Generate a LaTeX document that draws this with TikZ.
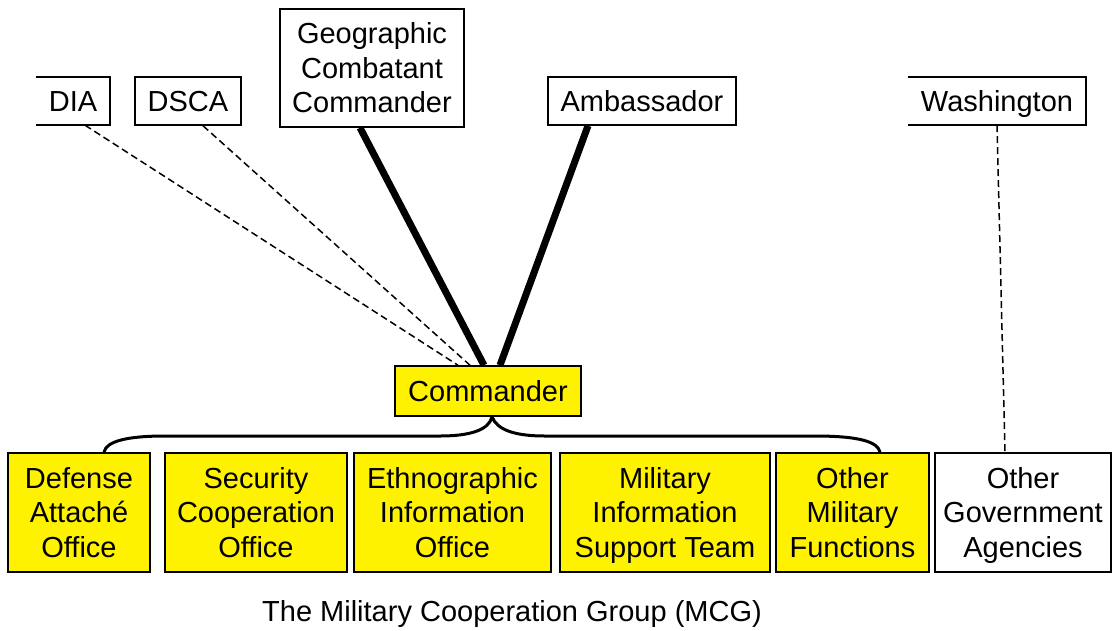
\documentclass[tikz,border=0pt]{standalone}
\usepackage{fontspec}
\setmainfont{Liberation Sans}
\usetikzlibrary{backgrounds}
\newcommand\capstrut{\rule[-7.2pt]{0pt}{35.2pt}}
\begin{document}
\begin{tikzpicture}[x=1pt,y=-1pt,
  txt/.style={inner sep=0pt, align=center, font=\fontsize{29}{34.5}\selectfont,
    execute at end node=\capstrut},
  box/.style={txt, draw=black, line width=1.5pt},
  ybox/.style={box, fill=yellow},
  openbox/.style={txt},
  edge/.style={line width=1.5pt},
  dashline/.style={line width=1.5pt, dash pattern=on 7pt off 4pt},
  heavy/.style={line width=7pt},
  brace/.style={line width=3pt}]
\useasboundingbox (0,0) rectangle (1113,630);

% top boxes
\node[openbox, minimum width=74pt, minimum height=48pt] (dia) at (73,101) {\capstrut DIA};
\draw[edge] (dia.north west) -- (dia.north east) -- (dia.south east) -- (dia.south west);
\node[box, minimum width=106pt, minimum height=48pt] (dsca) at (188,101) {\capstrut DSCA};
\node[box, minimum width=184pt, minimum height=118pt] (gcc) at (372,68) {\capstrut Geographic\\Combatant\\Commander};
\node[box, minimum width=188pt, minimum height=48pt] (amb) at (642,101) {\capstrut Ambassador};
\node[openbox, minimum width=178pt, minimum height=48pt] (wash) at (997,101) {\capstrut Washington};
\draw[edge] (wash.north west) -- (wash.north east) -- (wash.south east) -- (wash.south west);

% commander
\node[ybox, minimum width=186pt, minimum height=50pt] (cmd) at (488,391) {\capstrut Commander};

% bottom boxes
\node[ybox, minimum width=142pt, minimum height=119pt] (dao) at (79,512.5) {\capstrut Defense\\Attach\'e\\Office};
\node[ybox, minimum width=182pt, minimum height=119pt] (sco) at (256,512.5) {\capstrut Security\\Cooperation\\Office};
\node[ybox, minimum width=197pt, minimum height=119pt] (eio) at (452.5,512.5) {\capstrut Ethnographic\\Information\\Office};
\node[ybox, minimum width=210pt, minimum height=119pt] (mist) at (665,512.5) {\capstrut Military\\Information\\Support Team};
\node[ybox, minimum width=153pt, minimum height=119pt] (omf) at (852.5,512.5) {\capstrut Other\\Military\\Functions};
\node[box, minimum width=176pt, minimum height=119pt] (oga) at (1023,512.5) {\capstrut Other\\Government\\Agencies};

% title
\node[txt] (title) at (512,611) {\capstrut The Military Cooperation Group (MCG)};

% connectors
\begin{scope}[on background layer]
\draw[dashline] ([xshift=12pt]dia.south) -- ([xshift=-30pt]cmd.north);
\draw[dashline] ([xshift=15pt]dsca.south) -- ([xshift=-18pt]cmd.north);
\draw[heavy] ([xshift=-12pt]gcc.south) -- ([xshift=-4pt]cmd.north);
\draw[heavy] ([xshift=-54pt]amb.south) -- ([xshift=12pt]cmd.north);
\draw[dashline] (wash.south) -- ([xshift=-18pt]oga.north);
\draw[brace] ([xshift=25pt]dao.north) .. controls (106,441) and (128,436) .. (165,436)
  -- (440,436) .. controls (470,436) and (489,430) .. ([xshift=4pt]cmd.south)
  .. controls (497,430) and (515,436) .. (545,436)
  -- (815,436) .. controls (860,436) and (878,442) .. ([xshift=27.5pt]omf.north);
\end{scope}
\end{tikzpicture}
\end{document}
